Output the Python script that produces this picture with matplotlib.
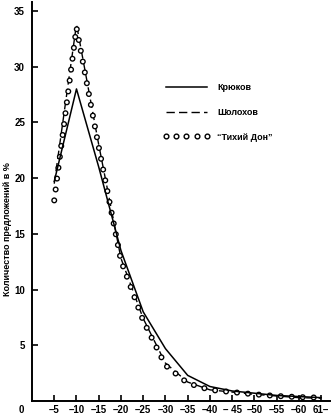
import matplotlib

matplotlib.use("Agg")

import matplotlib.pyplot as plt
from matplotlib.lines import Line2D

# sentence length groups (words), upper bound of each group
words = [5, 10, 15, 20, 25, 30, 35, 40, 45, 50, 55, 60, 65]
tick_labels = ["–5", "–10", "–15", "–20", "–25", "–30", "–35", "–40",
               "– 45", "–50", "–55", "–60", "61–"]

# share of sentences, %
krukov = [19.7, 28.0, 21.0, 13.5, 8.0, 4.7, 2.3, 1.3, 0.9, 0.7, 0.5, 0.4, 0.3]
sholokhov = [19.5, 33.8, 23.0, 12.8, 7.4, 3.4, 1.7, 1.0, 0.8, 0.6, 0.45, 0.3, 0.25]
tikhy_don = [18.0, 33.5, 22.8, 12.6, 7.2, 3.2, 1.6, 1.0, 0.8, 0.6, 0.45, 0.35, 0.3]

labels = ["Крюков", "Шолохов", "\u201cТихий Дон\u201d"]

plt.rcParams.update(
    {
        "font.family": ["Liberation Sans", "DejaVu Sans"],
        "font.weight": "bold",
        "font.size": 7,
        "lines.scale_dashes": False,
    }
)

fig = plt.figure(figsize=(3.35, 4.16), dpi=100)
ax = fig.add_axes([32 / 335, 15 / 416, 298 / 335, 399 / 416])

dashed, = ax.plot(words, sholokhov, color="black", lw=1.0,
                  linestyle=(0, (6, 3)), zorder=2)

# hollow circles spaced evenly along the curve: round dots in black,
# smaller white dots on top
ring = dict(linestyle=(0, (0.01, 7.9)), dash_capstyle="round")
ax.plot(words, tikhy_don, color="black", lw=4.4, zorder=3, **ring)
ax.plot(words, tikhy_don, color="white", lw=2.4, zorder=3.1, **ring)

solid, = ax.plot(words, krukov, color="black", lw=1.1, zorder=4)

ax.set_xlim(0, 67)
ax.set_ylim(0, 35.8)
ax.set_xticks(words)
ax.set_xticklabels(tick_labels)
ax.set_yticks([5, 10, 15, 20, 25, 30, 35])

for side in ("top", "right"):
    ax.spines[side].set_visible(False)
for side in ("left", "bottom"):
    ax.spines[side].set_linewidth(1.4)
ax.tick_params(direction="in", length=4, width=1.2)
ax.tick_params(axis="x", pad=3)
ax.tick_params(axis="y", pad=5)

fig.text(21 / 335, 1 - 410 / 416, "0", ha="center", va="center", fontsize=7)
fig.text(8 / 335, 1 - 229 / 416, "Количество предложений в %", rotation=90,
         ha="center", va="center", fontsize=6.5)

circles = Line2D([], [], linestyle="none", marker="o", markersize=3.4,
                 markeredgewidth=1.0, markeredgecolor="black",
                 markerfacecolor="white")

ax.legend(
    [solid, dashed, circles],
    labels,
    numpoints=5,
    frameon=False,
    loc="upper left",
    bbox_to_anchor=(163 / 335, 1 - 83 / 416),
    bbox_transform=fig.transFigure,
    borderpad=0,
    borderaxespad=0,
    handlelength=5.2,
    handletextpad=0.8,
    labelspacing=1.75,
    fontsize=6.5,
)

fig.savefig("out.png", dpi=100)
